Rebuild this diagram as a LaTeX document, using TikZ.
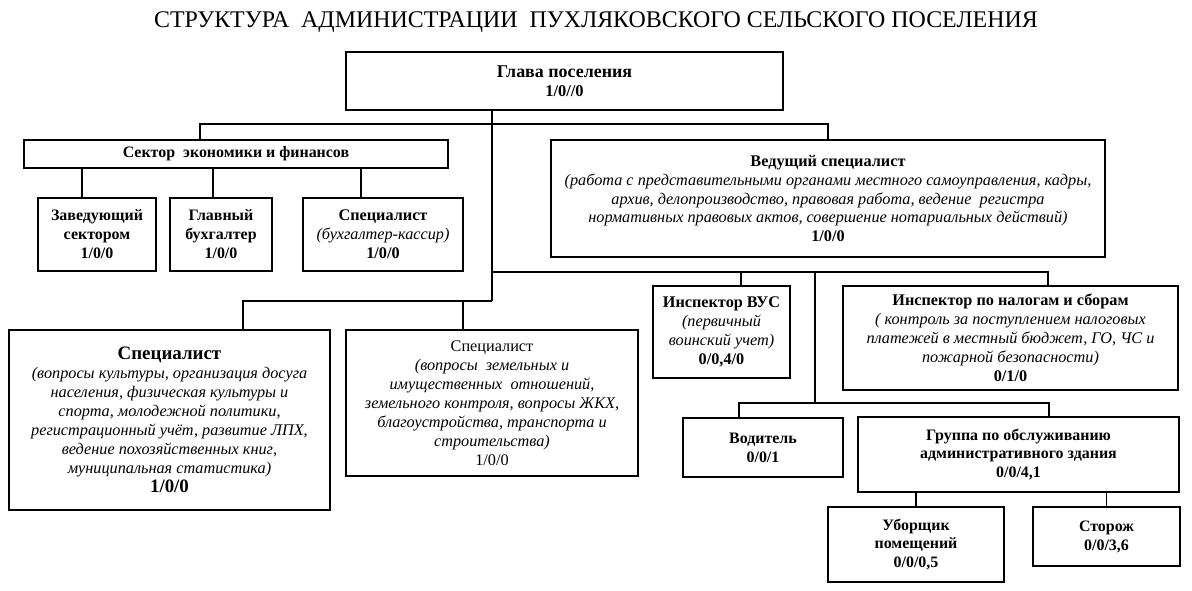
\documentclass[tikz,border=0pt]{standalone}
\usepackage{fontspec}
\setmainfont{Liberation Serif}
\usetikzlibrary{positioning}

\newcommand\headtxt[1]{\textup{\bfseries #1}}

\tikzset{
  unit/.style={draw, line width=1.5bp, inner sep=2bp, align=center,
    font=\fontsize{16}{19}\selectfont},
  boldunit/.style={unit, font=\fontsize{16}{19}\selectfont\bfseries},
  notes/.style={unit, font=\fontsize{16.3}{19}\selectfont\itshape},
  link/.style={line width=1.2bp},
}

\begin{document}
\begin{tikzpicture}[x=1bp, y=-1bp]
\useasboundingbox (0,0) rectangle (1192,591);

\node (title) at (596,22) {\fontsize{24}{27}\selectfont СТРУКТУРА\ \ АДМИНИСТРАЦИИ\ \ ПУХЛЯКОВСКОГО СЕЛЬСКОГО ПОСЕЛЕНИЯ};

\node[boldunit, minimum width=437bp, minimum height=58bp, font=\fontsize{16.5}{19}\selectfont\bfseries] (glava) at (564.5,81)
  {{\fontsize{18}{19}\selectfont Глава поселения}\\1/0//0};

\node[boldunit, minimum width=424bp, minimum height=28bp] (sector) at (236,154)
  {Сектор\ \ экономики и финансов};
\node[boldunit, minimum width=118bp, minimum height=73bp] (zav) at (97,234.5)
  {Заведующий\\сектором\\1/0/0};
\node[boldunit, minimum width=102bp, minimum height=73bp] (glavbuh) at (221,234.5)
  {Главный\\бухгалтер\\1/0/0};
\node[notes, minimum width=160bp, minimum height=73bp] (kassir) at (383,234.5)
  {\headtxt{Специалист}\\(бухгалтер-кассир)\\\headtxt{1/0/0}};

\node[notes, minimum width=554bp, minimum height=117bp] (ved) at (828,198.5)
  {\headtxt{Ведущий специалист}\\
   (работа с представительными органами местного самоуправления, кадры,\\
   архив, делопроизводство, правовая работа, ведение\ \ регистра\\
   нормативных правовых актов, совершение нотариальных действий)\\
   \headtxt{1/0/0}};

\node[notes, minimum width=321bp, minimum height=180bp] (spec1) at (169.5,420)
  {\headtxt{\fontsize{19}{21}\selectfont Специалист}\\
   (вопросы культуры, организация досуга\\
   населения, физическая культуры и\\
   спорта, молодежной политики,\\
   регистрационный учёт, развитие ЛПХ,\\
   ведение похозяйственных книг,\\
   муниципальная статистика)\\
   \headtxt{\fontsize{19}{21}\selectfont 1/0/0}};
\node[notes, minimum width=292bp, minimum height=146bp] (spec2) at (492,403)
  {\textup{Специалист}\\
   (вопросы\ \ земельных и\\
   имущественных\ \ отношений,\\
   земельного контроля, вопросы ЖКХ,\\
   благоустройства, транспорта и\\
   строительства)\\
   \textup{1/0/0}};

\node[notes, minimum width=137bp, minimum height=92bp] (vus) at (721.5,332)
  {\headtxt{Инспектор ВУС}\\(первичный\\воинский учет)\\\headtxt{0/0,4/0}};
\node[notes, minimum width=335bp, minimum height=104bp] (nalog) at (1010.5,338)
  {\headtxt{Инспектор по налогам и сборам}\\
   ( контроль за поступлением налоговых\\
   платежей в местный бюджет, ГО, ЧС и\\
   пожарной безопасности)\\
   \headtxt{0/1/0}};

\node[boldunit, minimum width=160bp, minimum height=59bp] (vod) at (763,447.5)
  {Водитель\\0/0/1};
\node[boldunit, minimum width=321bp, minimum height=75bp] (group) at (1018.5,454.5)
  {Группа по обслуживанию\\административного здания\\0/0/4,1};
\node[boldunit, minimum width=176bp, minimum height=75bp] (ubor) at (916,544.5)
  {Уборщик\\помещений\\0/0/0,5};
\node[boldunit, minimum width=147bp, minimum height=59bp] (storozh) at (1106.5,536.5)
  {Сторож\\0/0/3,6};

% junctions
\coordinate (t1) at (492,124);
\coordinate (t2) at (492,272);
\coordinate (t3) at (492,301);
\coordinate (b1l) at (200,124);
\coordinate (b1r) at (828,124);
\coordinate (b2r) at (1048,272);
\coordinate (d1) at (815,272);
\coordinate (d2) at (815,403);
\coordinate (b3l) at (739,403);
\coordinate (b3r) at (1049,403);
\coordinate (b4l) at (243,301);

\draw[link] (glava.south -| t1) -- (t3);
\draw[link] (sector.north -| b1l) -- (b1l) -- (b1r) -- (ved.north -| b1r);
\foreach \n/\x in {zav/82, glavbuh/213, kassir/361}
  \draw[link] (sector.south -| \x,0) -- (\n.north -| \x,0);
\draw[link] (t2) -- (b2r) -- (nalog.north -| b2r);
\draw[link] (vus.north -| 741,0) -- (741,272);
\draw[link] (d1) -- (d2);
\draw[link] (vod.north -| b3l) -- (b3l) -- (b3r) -- (group.north -| b3r);
\draw[link] (group.south -| ubor.north) -- (ubor.north);
\draw[link] (group.south -| storozh.north) -- (storozh.north);
\draw[link] (t3) -- (b4l) -- (spec1.north -| b4l);
\draw[link] (spec2.north -| 463,0) -- (463,301);
%\draw[link] (t2) -- (ved.south);
\end{tikzpicture}
\end{document}
